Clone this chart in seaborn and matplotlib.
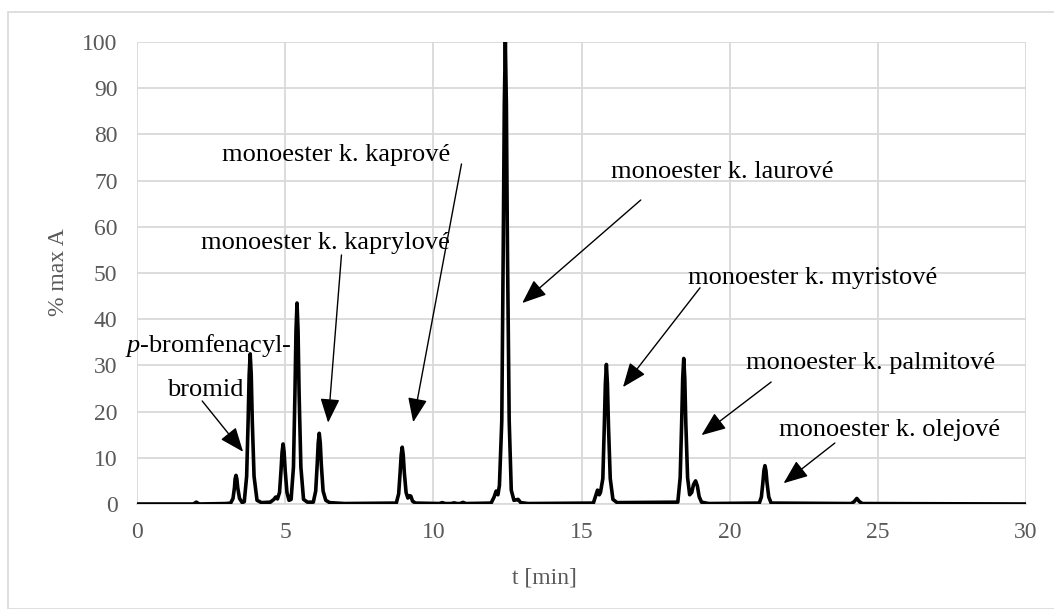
import matplotlib
matplotlib.use("Agg")
import matplotlib.pyplot as plt
import seaborn as sns
import pandas as pd
from matplotlib.patches import Rectangle

# Chromatogram trace (time in min, % of max absorbance)
time_min = [0, 1.9, 2.0, 2.1, 3.0,
            3.16, 3.24, 3.29, 3.31, 3.34, 3.37, 3.40, 3.46, 3.55,
            3.62, 3.70, 3.75, 3.785, 3.82, 3.855, 3.89, 3.95, 4.05, 4.2,
            4.5, 4.62, 4.68, 4.74, 4.81, 4.86, 4.895, 4.93, 4.965, 5.0, 5.06, 5.13,
            5.2, 5.28, 5.33, 5.365, 5.40, 5.435, 5.47, 5.53, 5.62, 5.75,
            5.95, 6.03, 6.08, 6.115, 6.15, 6.185, 6.22, 6.28, 6.37, 6.5,
            7.0, 8.75, 8.83, 8.88, 8.915, 8.95, 8.985, 9.02, 9.08, 9.14, 9.2, 9.24, 9.3, 9.4,
            10.2, 10.3, 10.4, 10.6, 10.7, 10.8, 10.9, 11.0, 11.1,
            11.95, 12.05, 12.12, 12.18, 12.23, 12.31, 12.36, 12.395, 12.43, 12.465, 12.50,
            12.56, 12.63, 12.72, 12.8, 12.86, 12.95, 13.2,
            15.4, 15.48, 15.54, 15.6, 15.64, 15.72, 15.77, 15.805, 15.84, 15.875, 15.91,
            15.97, 16.06, 16.2,
            18.25, 18.33, 18.38, 18.415, 18.45, 18.485, 18.52, 18.58, 18.65, 18.72, 18.78,
            18.85, 18.91, 18.97, 19.05, 19.3,
            21.0, 21.07, 21.12, 21.155, 21.19, 21.225, 21.26, 21.32, 21.4,
            24.1, 24.2, 24.29, 24.38, 24.48, 30]
signal = [0, 0, 0.4, 0, 0.1,
          0.2, 1.2, 3.6, 5.4, 6.2, 5.4, 3.5, 1.2, 0.3,
          0.5, 6, 18, 28, 32.5, 28, 18, 6, 0.8, 0.3,
          0.4, 1.0, 1.5, 1.1, 2.5, 7.3, 11.2, 13, 11.2, 7.3, 2.5, 0.8,
          1.0, 8, 24, 37.5, 43.5, 37.5, 24, 8, 1.0, 0.4,
          0.4, 2.8, 8.5, 13.2, 15.3, 13.2, 8.5, 2.8, 0.8, 0.3,
          0.1, 0.2, 2.2, 6.9, 10.6, 12.3, 10.6, 6.9, 2.5, 1.3, 1.8, 1.7, 0.6, 0.2,
          0.1, 0.3, 0.1, 0.1, 0.25, 0.1, 0.1, 0.35, 0.1,
          0.2, 1.5, 2.8, 2.0, 4, 18, 56, 86.5, 100, 86.5, 56,
          18, 3, 0.8, 0.9, 1.0, 0.3, 0.1,
          0.2, 1.8, 3.0, 2.0, 2.5, 5.5, 17, 26, 30.2, 26, 17,
          5.5, 1.0, 0.3,
          0.4, 5.7, 17.6, 27.2, 31.5, 27.2, 17.6, 5.7, 2.0, 2.5, 4.2,
          5.0, 3.9, 1.6, 0.4, 0.1,
          0.2, 1.5, 4.6, 7.2, 8.3, 7.2, 4.6, 1.5, 0.2,
          0.1, 0.5, 1.2, 0.5, 0.1, 0]

# Annotations: label, text position, arrow tail, arrow head (data coords)
labels = ["monoester k. kaprylové", "monoester k. kaprové", "monoester k. laurové",
          "monoester k. myristové", "monoester k. palmitové", "monoester k. olejové"]
label_xy = [(6.35, 56.5), (6.72, 75.5), (19.76, 71.9), (22.8, 48.9), (24.76, 30.5), (25.4, 16.0)]
arrow_tail = [(6.9, 53.9), (10.95, 73.6), (17.0, 65.8), (19.0, 46.8), (21.4, 26.4), (23.55, 13.2)]
arrow_head = [(6.45, 17.6), (9.32, 17.7), (13.0, 43.5), (16.4, 25.3), (19.05, 14.9), (21.82, 4.5)]

x_ticks = [0, 5, 10, 15, 20, 25, 30]
y_ticks = [0, 10, 20, 30, 40, 50, 60, 70, 80, 90, 100]

sns.set_theme(style="white")
plt.rcParams["font.family"] = ["Liberation Serif", "DejaVu Serif"]
plt.rcParams["mathtext.fontset"] = "custom"
plt.rcParams["mathtext.rm"] = "Liberation Serif"
plt.rcParams["mathtext.it"] = "Liberation Serif:italic"

fig = plt.figure(figsize=(10.54, 6.09), dpi=100)
ax = fig.add_axes([137/1054, 1 - 504/609, (1026 - 137)/1054, (504 - 42)/609])

df = pd.DataFrame({"t": time_min, "A": signal})
sns.lineplot(data=df, x="t", y="A", ax=ax, color="black", linewidth=2.6, zorder=3)

ax.set_xlim(0, 30)
ax.set_ylim(0, 100)
ax.set_xticks(x_ticks)
ax.set_yticks(y_ticks)
ax.grid(True, color="#d9d9d9", linewidth=1.3, zorder=0)
ax.set_axisbelow(True)
for s in ["top", "right", "left"]:
    ax.spines[s].set_visible(False)
ax.spines["bottom"].set_color("#d9d9d9")
ax.tick_params(axis="both", length=0, labelsize=17, labelcolor="#595959")
ax.tick_params(axis="y", pad=14)
ax.tick_params(axis="x", pad=13)
ax.set_xlabel("")
ax.set_ylabel("")

fig.text(544/1054, 1 - 578/609, "t [min]", fontsize=17, color="#595959", ha="center", va="center")
fig.text(59/1054, 1 - 272/609, "% max A", fontsize=17, color="#595959", ha="center", va="center",
         rotation=90)

# outer chart border
fig.patches.append(Rectangle((8/1054, 0), 1.0, 1 - 12/609, transform=fig.transFigure,
                             fill=False, edgecolor="#d9d9d9", linewidth=1.2))

arrowprops = dict(arrowstyle="-|>,head_length=0.75,head_width=0.3", mutation_scale=20,
                  color="black", lw=1.0, shrinkA=0, shrinkB=0)

for lab, (tx, ty), tail, head in zip(labels, label_xy, arrow_tail, arrow_head):
    ax.text(tx, ty, lab, fontsize=19, color="black", ha="center", va="center", zorder=5)
    ax.annotate("", xy=head, xytext=tail, arrowprops=arrowprops, zorder=5)

# p-bromfenacyl-bromid label
ax.text(2.4, 34.2, r"$\mathit{p}$-bromfenacyl-", fontsize=19, color="black", ha="center",
        va="center", zorder=5)
ax.text(2.3, 24.7, "bromid", fontsize=19, color="black", ha="center", va="center", zorder=5)
ax.annotate("", xy=(3.58, 11.3), xytext=(2.2, 22.3), arrowprops=arrowprops, zorder=5)

fig.savefig("out.png", dpi=100)
